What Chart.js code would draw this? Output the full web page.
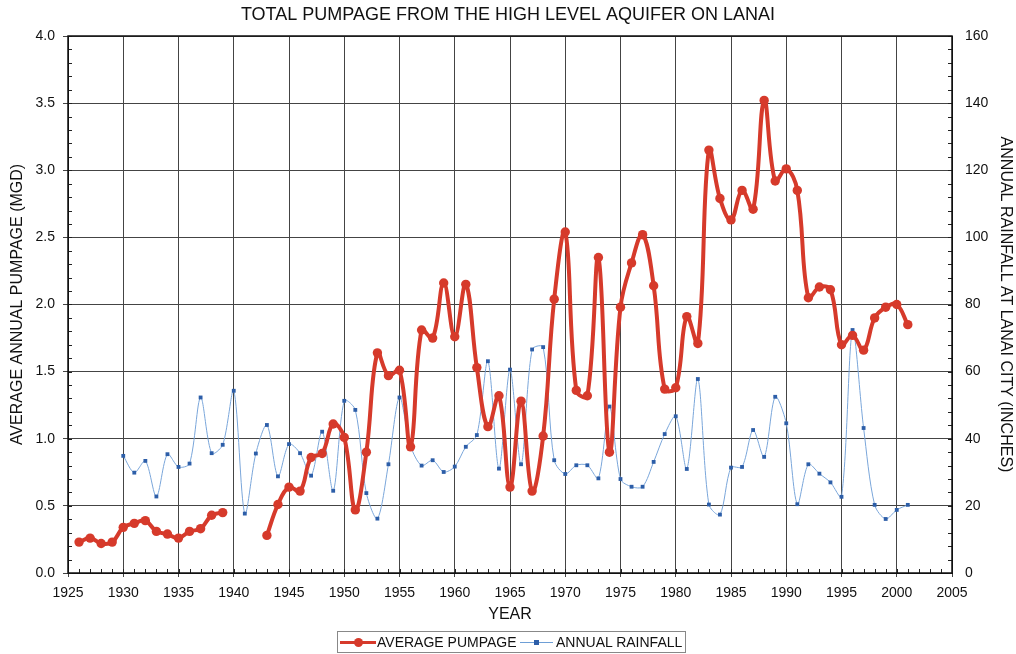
<!DOCTYPE html>
<html><head><meta charset="utf-8">
<script src="https://cdn.jsdelivr.net/npm/chart.js@4"></script>
<style>
html,body{margin:0;padding:0;background:#fff;}
#wrap{position:relative;width:1016px;height:654px;}
#legend{position:absolute;left:337px;top:631px;width:349px;height:22px;border:1px solid #888;box-sizing:border-box;font:14px "Liberation Sans",Arial,sans-serif;color:#111;}
#legend span{position:absolute;}
.t{top:2px;line-height:16px;white-space:nowrap;}
</style></head>
<body><div id="wrap"><canvas id="c" width="1016" height="654"></canvas>
<div id="legend">
<span style="left:2px;top:9px;width:36px;height:3px;background:#d63a2b"></span>
<span style="left:16px;top:6px;width:9px;height:9px;border-radius:50%;background:#d63a2b"></span>
<span class="t" style="left:39px">AVERAGE PUMPAGE</span>
<span style="left:182px;top:10px;width:33px;height:1px;background:#6e9fd6"></span>
<span style="left:196px;top:8px;width:5px;height:5px;background:#2d5ea8"></span>
<span class="t" style="left:218px">ANNUAL RAINFALL</span>
</div></div>
<script>
const years = [1926,1927,1928,1929,1930,1931,1932,1933,1934,1935,1936,1937,1938,1939,1940,1941,1942,1943,1944,1945,1946,1947,1948,1949,1950,1951,1952,1953,1954,1955,1956,1957,1958,1959,1960,1961,1962,1963,1964,1965,1966,1967,1968,1969,1970,1971,1972,1973,1974,1975,1976,1977,1978,1979,1980,1981,1982,1983,1984,1985,1986,1987,1988,1989,1990,1991,1992,1993,1994,1995,1996,1997,1998,1999,2000,2001];
const pumpage = [0.23,0.26,0.22,0.23,0.34,0.37,0.39,0.31,0.29,0.26,0.31,0.33,0.43,0.45,null,null,null,0.28,0.51,0.64,0.61,0.86,0.89,1.11,1.01,0.47,0.90,1.64,1.47,1.51,0.94,1.81,1.75,2.16,1.76,2.15,1.53,1.09,1.32,0.64,1.28,0.61,1.02,2.04,2.54,1.36,1.32,2.35,0.90,1.98,2.31,2.52,2.14,1.37,1.38,1.91,1.71,3.15,2.79,2.63,2.85,2.71,3.52,2.92,3.01,2.85,2.05,2.13,2.11,1.70,1.77,1.66,1.90,1.98,2.00,1.85];
const rainfall = [null,null,null,null,34.9,29.9,33.4,22.8,35.4,31.6,32.6,52.3,35.7,38.2,54.3,17.7,35.6,44.1,28.8,38.4,35.7,29.0,42.1,24.5,51.3,48.6,23.8,16.2,32.4,52.3,37.9,32.0,33.6,30.1,31.7,37.6,41.1,63.1,31.1,60.6,32.4,66.6,67.3,33.6,29.5,32.1,32.1,28.2,49.6,28.0,25.7,25.7,33.1,41.4,46.7,31.0,57.8,20.4,17.4,31.4,31.6,42.6,34.6,52.5,44.6,20.5,32.4,29.6,27.0,22.7,72.4,43.2,20.3,16.1,18.8,20.3];
const seriesNames = ['AVERAGE PUMPAGE','ANNUAL RAINFALL'];
const titleText = 'TOTAL PUMPAGE FROM THE HIGH LEVEL AQUIFER ON LANAI';
const xTitle = 'YEAR';
const yLeftTitle = 'AVERAGE ANNUAL PUMPAGE (MGD)';
const yRightTitle = 'ANNUAL RAINFALL AT LANAI CITY (INCHES)';

const FONT = '"Liberation Sans", Arial, sans-serif';
const minorTicks = {
  id:'minorTicks',
  afterDatasetsDraw(chart){
    const {ctx, chartArea:a, scales:{x,y,y2}} = chart;
    ctx.save(); ctx.strokeStyle='#222'; ctx.lineWidth=1;
    ctx.beginPath();
    for(let yr=1925; yr<=2005; yr++){ const px=Math.round(x.getPixelForValue(yr))+0.5; ctx.moveTo(px,a.bottom); ctx.lineTo(px,a.bottom-4); }
    for(let v=0; v<=4.0001; v+=0.1){ const py=Math.round(y.getPixelForValue(v))+0.5; ctx.moveTo(a.left,py); ctx.lineTo(a.left+4,py); }
    for(let v=0; v<=160; v+=4){ const py=Math.round(y2.getPixelForValue(v))+0.5; ctx.moveTo(a.right,py); ctx.lineTo(a.right-4,py); }
    ctx.stroke();
    ctx.strokeStyle='#111'; ctx.lineWidth=1.5;
    ctx.strokeRect(a.left, a.top, a.right-a.left, a.bottom-a.top);
    ctx.restore();
  }
};
new Chart(document.getElementById('c'), {
  type:'line',
  data:{datasets:[
    {label:seriesNames[0], data:years.map((yr,i)=>({x:yr,y:pumpage[i]})), yAxisID:'y', borderColor:'#d63a2b', backgroundColor:'#d63a2b', borderWidth:4, pointRadius:4.7, pointHoverRadius:4.7, pointBorderWidth:0, tension:0.4, spanGaps:false, order:1},
    {label:seriesNames[1], data:years.map((yr,i)=>({x:yr,y:rainfall[i]})), yAxisID:'y2', borderColor:'#7aa6da', backgroundColor:'#2d5ea8', borderWidth:1, pointStyle:'rect', pointRadius:2.7, pointHoverRadius:2.7, pointBorderWidth:0, tension:0.3, spanGaps:false, order:2}
  ]},
  options:{
    responsive:false, animation:false, events:[],
    layout:{padding:{left:0,right:0,top:0,bottom:0}},
    plugins:{
      legend:{display:false}, tooltip:{enabled:false},
      title:{display:true, text:titleText, color:'#111', font:{family:FONT,size:18,weight:'normal'}, padding:{top:4,bottom:10.4}}
    },
    scales:{
      x:{type:'linear', min:1925, max:2005, ticks:{stepSize:5, color:'#111', font:{family:FONT,size:14}, padding:8, callback:v=>String(v)},
        grid:{color:'#444', lineWidth:1, tickLength:4, drawTicks:true},
        border:{color:'#111'},
        title:{display:true, text:xTitle, color:'#111', font:{family:FONT,size:16}, padding:{top:4,bottom:29.4}},
        afterFit(s){ s.height = 81; }},
      y:{position:'left', min:0, max:4, ticks:{stepSize:0.5, color:'#111', font:{family:FONT,size:14}, padding:8, callback:v=>v.toFixed(1)},
        grid:{color:'#444', lineWidth:1, tickLength:5},
        border:{color:'#111'},
        title:{display:true, text:yLeftTitle, color:'#111', font:{family:FONT,size:16}, padding:{top:8.4,bottom:0}},
        afterFit(s){ s.width = 68; }},
      y2:{position:'right', min:0, max:160, ticks:{stepSize:20, color:'#111', font:{family:FONT,size:14}, padding:13, callback:v=>String(v)},
        grid:{drawOnChartArea:false, drawTicks:false, color:'#444', tickLength:0},
        border:{color:'#111'},
        title:{display:true, text:yRightTitle, color:'#111', font:{family:FONT,size:16}, padding:{top:1.4,bottom:0}},
        afterFit(s){ s.width = 64; }}
    }
  },
  plugins:[minorTicks]
});
</script></body></html>
